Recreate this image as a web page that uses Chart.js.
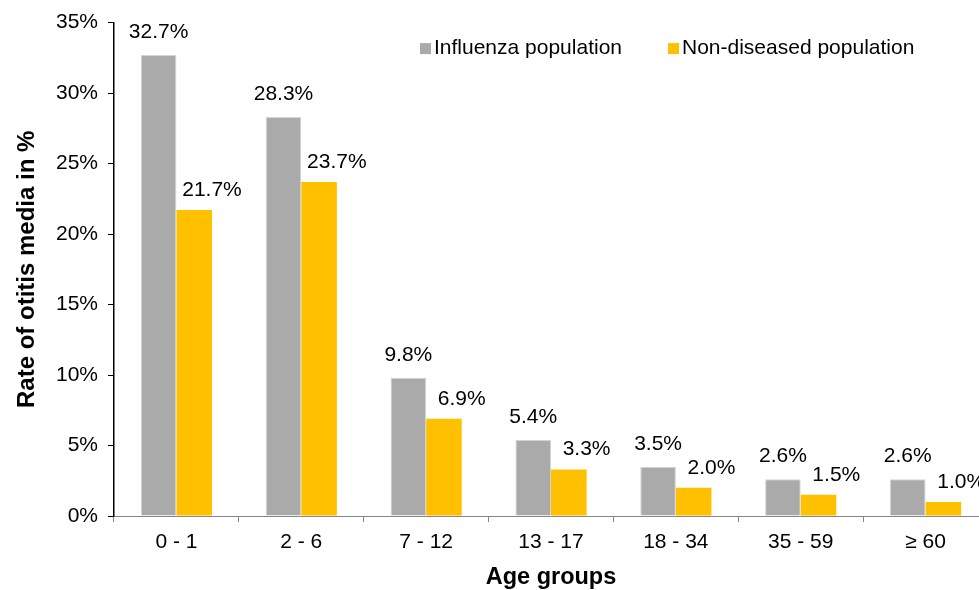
<!DOCTYPE html>
<html>
<head>
<meta charset="utf-8">
<script src="https://cdn.jsdelivr.net/npm/chart.js@4.4.1/dist/chart.umd.min.js"></script>
<style>
html,body{margin:0;padding:0;background:#fff;overflow:hidden;}
#wrap{width:990px;height:590px;}
</style>
</head>
<body>
<div id="wrap"><canvas id="c" width="990" height="590"></canvas></div>
<script>
const categories = ['0 - 1', '2 - 6', '7 - 12', '13 - 17', '18 - 34', '35 - 59', '\u2265 60'];
const influenza = [32.7, 28.3, 9.8, 5.4, 3.5, 2.6, 2.6];
const nonDiseased = [21.7, 23.7, 6.9, 3.3, 2.0, 1.5, 1.0];
const seriesNames = ['Influenza population', 'Non-diseased population'];
const yTicks = [0, 5, 10, 15, 20, 25, 30, 35];

const FONT = "'Liberation Sans', Arial, sans-serif";
const GRAY = '#AAAAAA';
const YELLOW = '#FFC000';

const labelPlugin = {
  id: 'labels',
  afterDatasetsDraw(chart) {
    const ctx = chart.ctx;
    ctx.save();
    ctx.font = '21px ' + FONT;
    ctx.fillStyle = '#000';
    ctx.textBaseline = 'alphabetic';
    ctx.textAlign = 'center';
    chart.data.datasets.forEach((ds, di) => {
      const meta = chart.getDatasetMeta(di);
      meta.data.forEach((bar, i) => {
        const txt = ds.data[i].toFixed(1) + '%';
        const x = di === 0 ? bar.x : bar.x + bar.width / 2;
        const gap = di === 0 ? 17 : 14;
        ctx.fillText(txt, x, bar.y - gap);
      });
    });
    ctx.restore();
  }
};

const legendPlugin = {
  id: 'customLegend',
  afterDraw(chart) {
    const ctx = chart.ctx;
    const a = chart.chartArea;
    ctx.save();
    ctx.font = '21px ' + FONT;
    ctx.textBaseline = 'middle';
    ctx.textAlign = 'left';
    const starts = [a.left + 306, a.left + 554];
    const cy = a.top + 26;
    chart.data.datasets.forEach((ds, di) => {
      const x = starts[di];
      ctx.fillStyle = ds.backgroundColor;
      ctx.fillRect(x, cy - 5.5, 11, 11);
      ctx.fillStyle = '#000';
      ctx.fillText(ds.label, x + 14, cy);
    });
    ctx.restore();
  }
};

new Chart(document.getElementById('c'), {
  type: 'bar',
  data: {
    labels: categories,
    datasets: [
      { label: seriesNames[0], data: influenza, backgroundColor: GRAY, borderColor: '#D4D4D4', borderWidth: 1, categoryPercentage: 0.57, barPercentage: 1.0 },
      { label: seriesNames[1], data: nonDiseased, backgroundColor: YELLOW, borderWidth: 0, categoryPercentage: 0.57, barPercentage: 1.0 }
    ]
  },
  options: {
    responsive: false,
    animation: false,
    devicePixelRatio: 1,
    layout: { padding: { top: 20, right: 2, left: 0, bottom: 0 } },
    plugins: { legend: { display: false }, tooltip: { enabled: false } },
    scales: {
      x: {
        grid: { display: true, drawOnChartArea: false, offset: true, tickLength: 6, color: '#868686', lineWidth: 1 },
        border: { display: true, color: '#868686', width: 1 },
        ticks: { color: '#000', font: { family: FONT, size: 21 }, padding: 8, maxRotation: 0 },
        title: { display: true, text: 'Age groups', color: '#000', font: { family: FONT, size: 23.5, weight: 'bold', lineHeight: 1 }, padding: { top: 0, bottom: 1 } },
        afterFit(s) { s.height = 74; }
      },
      y: {
        min: 0, max: 35,
        afterBuildTicks(s) { s.ticks = yTicks.map(v => ({ value: v })); },
        grid: { display: true, drawOnChartArea: false, tickLength: 6, color: '#000', lineWidth: 1 },
        border: { display: true, color: '#000', width: 1.5 },
        ticks: { color: '#000', font: { family: FONT, size: 21 }, padding: 10, callback: v => v + '%' },
        title: { display: true, text: 'Rate of otitis media in %', color: '#000', font: { family: FONT, size: 24, weight: 'bold' }, padding: { top: 13, bottom: 0 } },
        afterFit(s) { s.width = 114; }
      }
    }
  },
  plugins: [labelPlugin, legendPlugin]
});
</script>
</body>
</html>
